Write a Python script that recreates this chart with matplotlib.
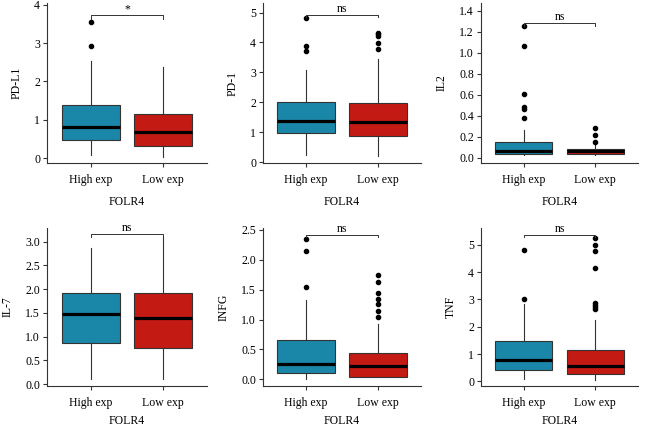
import matplotlib
matplotlib.use("Agg")
import matplotlib.pyplot as plt
import numpy as np

plt.rcParams["font.family"] = ["Liberation Serif", "DejaVu Serif"]
plt.rcParams["font.size"] = 8

genes = ["PD-L1", "PD-1", "IL2", "IL-7", "INFG", "TNF"]
groups = ["High exp", "Low exp"]
xlabel = "FOLR4"
sig = ["*", "ns", "ns", "ns", "ns", "ns"]

# box stats: (whislo, q1, med, q3, whishi)
high_stats = [
    (0.07, 0.47, 0.82, 1.39, 2.54),
    (0.25, 0.97, 1.39, 2.02, 3.08),
    (0.03, 0.032, 0.067, 0.146, 0.26),
    (0.10, 0.86, 1.48, 1.92, 2.86),
    (0.00, 0.11, 0.26, 0.66, 1.32),
    (0.10, 0.43, 0.78, 1.47, 2.84),
]
low_stats = [
    (0.03, 0.32, 0.68, 1.15, 2.39),
    (0.22, 0.86, 1.33, 1.99, 3.45),
    (0.03, 0.032, 0.063, 0.083, 0.13),
    (0.10, 0.77, 1.39, 1.92, 3.09),
    (0.04, 0.04, 0.22, 0.435, 0.93),
    (0.06, 0.28, 0.57, 1.16, 2.25),
]
high_fliers = [
    [2.93, 3.55],
    [3.71, 3.88, 4.81],
    [0.38, 0.46, 0.48, 0.61, 1.06, 1.25],
    [],
    [1.55, 2.14, 2.35],
    [3.02, 4.83],
]
low_fliers = [
    [],
    [3.78, 3.98, 4.20, 4.27, 4.33],
    [0.152, 0.216, 0.28],
    [],
    [1.04, 1.15, 1.26, 1.35, 1.45, 1.62, 1.74],
    [2.65, 2.71, 2.79, 2.86, 4.16, 4.78, 5.0, 5.26],
]
bracket_y = [3.73, 4.93, 1.28, 3.16, 2.42, 5.37]
bracket_tip = [3.62, 4.85, 1.25, 3.09, 2.38, 5.28]

# layout (pixels in 645x428 figure)
W, H = 645, 428
lefts = [47, 263, 481, 47, 263, 481]
rights = [207, 421, 638, 207, 421, 638]
tops = [3, 3, 3, 228, 228, 228]
bottoms = [163, 163, 163, 386, 386, 386]
ylims = [(-0.13, 4.05), (-0.03, 5.32), (-0.05, 1.473),
         (-0.04, 3.29), (-0.11, 2.53), (-0.17, 5.62)]
yticks = [np.arange(0, 4.1, 1), np.arange(0, 5.1, 1), np.arange(0, 1.41, 0.2),
          np.arange(0, 3.01, 0.5), np.arange(0, 2.51, 0.5), np.arange(0, 5.1, 1)]
yfmt = ["{:.0f}", "{:.0f}", "{:.1f}", "{:.1f}", "{:.1f}", "{:.0f}"]

colors = ["#1a87a8", "#c41a14"]

fig = plt.figure(figsize=(W / 100, H / 100), dpi=100)
for i, g in enumerate(genes):
    ax = fig.add_axes([lefts[i] / W, 1 - bottoms[i] / H,
                       (rights[i] - lefts[i]) / W, (bottoms[i] - tops[i]) / H])
    stats = []
    for s, fl, lab in [(high_stats[i], high_fliers[i], groups[0]),
                       (low_stats[i], low_fliers[i], groups[1])]:
        stats.append(dict(whislo=s[0], q1=s[1], med=s[2], q3=s[3], whishi=s[4],
                          fliers=fl, label=lab))
    bp = ax.bxp(stats, positions=[1, 2], widths=0.8, patch_artist=True,
                showcaps=False,
                boxprops=dict(edgecolor="#333333", linewidth=0.8),
                whiskerprops=dict(color="#333333", linewidth=0.8),
                medianprops=dict(color="black", linewidth=2.3),
                flierprops=dict(marker="o", markerfacecolor="black",
                                markeredgecolor="black", markersize=3))
    for patch, c in zip(bp["boxes"], colors):
        patch.set_facecolor(c)

    # significance bracket
    ax.plot([1, 1, 2, 2], [bracket_tip[i], bracket_y[i], bracket_y[i], bracket_tip[i]],
            color="#333333", lw=0.7)
    ax.text(1.5, bracket_y[i], sig[i], ha="center", va="bottom", fontsize=8.5)

    ax.set_xlim(0.4, 2.6)
    ax.set_ylim(*ylims[i])
    ax.set_yticks(yticks[i])
    ax.set_yticklabels([yfmt[i].format(v) for v in yticks[i]])
    ax.set_xticks([1, 2])
    ax.set_xticklabels(groups)
    ax.spines["top"].set_visible(False)
    ax.spines["right"].set_visible(False)
    for sp in ["left", "bottom"]:
        ax.spines[sp].set_color("#333333")
        ax.spines[sp].set_linewidth(0.8)
    ax.tick_params(direction="out", length=3, width=0.8, color="#333333",
                   labelsize=8.5, pad=2)
    ax.tick_params(axis="x", pad=5)
    ax.set_ylabel(g, fontsize=8.5, labelpad=8)
    # bottom row sits close to the figure edge
    ax.set_xlabel(xlabel, fontsize=8.5, labelpad=7 if i < 3 else 4.5)

fig.savefig("out.png", dpi=100)
